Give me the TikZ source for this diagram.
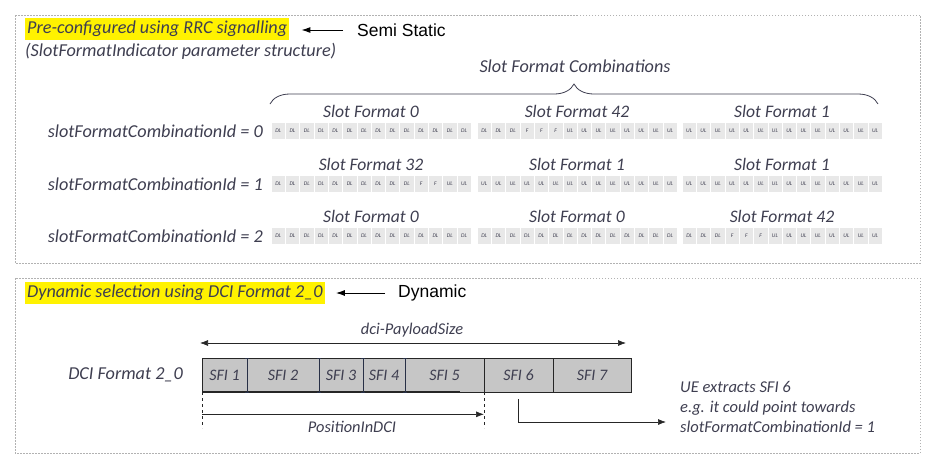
\documentclass[tikz,border=0pt]{standalone}
\usepackage{fontspec}
\setmainfont{Carlito}
\newfontfamily\arialfont{Liberation Sans}
\usepackage{xcolor}
\definecolor{labeltext}{RGB}{62,62,80}
\definecolor{cellgray}{RGB}{232,232,232}
\definecolor{sfigray}{RGB}{198,198,198}
\definecolor{beamblue}{RGB}{40,48,70}
\usepackage{tikz}
\usetikzlibrary{positioning,calc,arrows.meta,decorations.pathreplacing}

\def\sfzero{DL,DL,DL,DL,DL,DL,DL,DL,DL,DL,DL,DL,DL,DL}
\def\sfone{UL,UL,UL,UL,UL,UL,UL,UL,UL,UL,UL,UL,UL,UL}
\def\sfthirtytwo{DL,DL,DL,DL,DL,DL,DL,DL,DL,DL,F,F,UL,UL}
\def\sffortytwo{DL,DL,DL,F,F,F,UL,UL,UL,UL,UL,UL,UL,UL}

\newcommand{\slotbar}[5]{%
  \node[sftitle] (#1-title) at ({#2+100},{#3-20}) {Slot Format #5};
  \foreach \sym [count=\k] in #4 {
    \node[slotcell] (#1-\k) at ({#2+(\k-0.5)*14.3},#3) {\sym};
  }
}

\begin{document}
\begin{tikzpicture}[
    x=1pt, y=-1pt,
    lbl/.style={font=\fontsize{18.2}{20}\selectfont\itshape, text=labeltext, inner sep=0pt},
    small/.style={lbl, font=\fontsize{16.4}{20}\selectfont\itshape},
    hilite/.style={lbl, fill=yellow, inner xsep=2pt, inner ysep=3pt},
    note/.style={font=\fontsize{17.5}{20}\arialfont, inner sep=0pt},
    frame/.style={draw=gray!60, dash pattern=on 1.5pt off 1.5pt, line width=0.6pt},
    sftitle/.style={lbl, font=\fontsize{17.6}{20}\selectfont\itshape},
    slotcell/.style={rectangle, fill=cellgray, draw=white, line width=0.6pt, minimum width=14.3pt, minimum height=17pt, inner sep=0pt, font=\fontsize{5.6}{6}\selectfont\itshape, text=labeltext},
    sfi/.style={rectangle, draw=gray!30!black, fill=sfigray, minimum height=34pt, inner sep=0pt, outer sep=0pt, font=\fontsize{16}{20}\selectfont\itshape, text=labeltext},
    ptr/.style={-{Latex[length=9pt,width=6pt]}, line width=1pt},
    gptr/.style={-{Latex[length=8pt,width=6pt]}, draw=gray!30!black, line width=0.7pt}
]
\useasboundingbox (0,0) rectangle (935,464);

\draw[frame] (15,15) rectangle (920,263);
\draw[frame] (15,278) rectangle (920,453);

\node[hilite, anchor=west] (rrc) at (25,29) {Pre-configured using RRC signalling};
\node[lbl, anchor=west] (sfistruct) at (25,51) {(SlotFormatIndicator parameter structure)};
\node[note, anchor=west] (semistatic) at (357,30) {Semi Static};
\draw[ptr, shorten <=14pt, shorten >=12pt] (semistatic.west) -- (semistatic.west -| rrc.east);

\node[lbl] (combos) at (575,66) {Slot Format Combinations};
\draw[decorate, decoration={brace, amplitude=20pt}, labeltext, line width=0.8pt] (270,104) -- (878,104);

\node[lbl, anchor=east] (row0) at (263,131) {slotFormatCombinationId = 0};
\node[lbl, anchor=east] (row1) at (263,184) {slotFormatCombinationId = 1};
\node[lbl, anchor=east] (row2) at (263,236) {slotFormatCombinationId = 2};

\slotbar{r0a}{271}{131}{\sfzero}{0}
\slotbar{r0b}{477}{131}{\sffortytwo}{42}
\slotbar{r0c}{682}{131}{\sfone}{1}
\slotbar{r1a}{271}{184}{\sfthirtytwo}{32}
\slotbar{r1b}{477}{184}{\sfone}{1}
\slotbar{r1c}{682}{184}{\sfone}{1}
\slotbar{r2a}{271}{236}{\sfzero}{0}
\slotbar{r2b}{477}{236}{\sfzero}{0}
\slotbar{r2c}{682}{236}{\sffortytwo}{42}

\node[hilite, anchor=west] (dynsel) at (25,293) {Dynamic selection using DCI Format 2\_0};
\node[note, anchor=west] (dynamic) at (398,293) {Dynamic};
\draw[ptr, shorten <=13pt, shorten >=11pt] (dynamic.west) -- (dynamic.west -| dynsel.east);

\node[sfi, minimum width=45pt, anchor=west] (sfi1) at (202,375) {SFI 1};
\node[sfi, minimum width=72pt, right=0pt of sfi1] (sfi2) {SFI 2};
\node[sfi, minimum width=44pt, right=0pt of sfi2] (sfi3) {SFI 3};
\node[sfi, minimum width=42pt, right=0pt of sfi3] (sfi4) {SFI 4};
\node[sfi, minimum width=79pt, right=0pt of sfi4] (sfi5) {SFI 5};
\node[sfi, minimum width=69pt, right=0pt of sfi5] (sfi6) {SFI 6};
\node[sfi, minimum width=78pt, right=0pt of sfi6] (sfi7) {SFI 7};
\node[lbl, left=19pt of sfi1] (dcilabel) {DCI Format 2\_0};

\draw[line width=1.8pt, gray!30!black] (sfi1.south west) -- ($(sfi5.south east)+(-24,0)$);
\foreach \n in {1,...,4} {
  \draw[beamblue, line width=0.7pt] (sfi\n.north east) -- (sfi\n.south east)
    ($(sfi\n.north east)+(-2,0)$) -- ++(4,0)
    ($(sfi\n.south east)+(-2,0)$) -- ++(4,0);
}

\coordinate (payL) at (200,343);
\coordinate (payR) at (626,343);
\draw[gptr, {Latex[length=8pt,width=6pt]}-{Latex[length=8pt,width=6pt]}] (payL) -- (payR);
\node[small] (payload) at (412,330) {dci-PayloadSize};

\coordinate (posA) at ($(sfi1.south west)+(0,36)$);
\coordinate (posB) at ($(sfi6.south west)+(0,36)$);
\draw[gray!30!black, dashed, line width=0.6pt] (sfi1.south west) -- (posA);
\draw[gray!30!black, dashed, line width=0.6pt] (sfi6.south west) -- (posB);
\draw[gptr] ($(sfi1.south west)!0.62!(posA)$) -- ($(sfi6.south west)!0.62!(posB)$);
\node[small] (posindci) at (352,427) {PositionInDCI};

\node[lbl, font=\fontsize{16.5}{20}\selectfont\itshape, align=left, anchor=west] (ue) at (680,407) {UE extracts SFI 6\\e.g. it could point towards\\slotFormatCombinationId = 1};
\coordinate (uetip) at (666,422);
\draw[gptr] ([yshift=-7pt]sfi6.south) |- (uetip);

\end{tikzpicture}
\end{document}
